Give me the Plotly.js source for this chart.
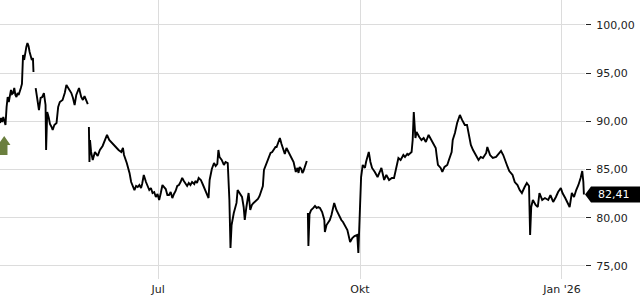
<!DOCTYPE html>
<html><head><meta charset="utf-8">
<script src="https://cdn.plot.ly/plotly-3.0.1.min.js"></script>
<style>html,body{margin:0;padding:0;background:#fff}#chart{width:640px;height:300px}</style>
</head><body><div id="chart"></div>
<script>
const dates = [
'2025-04-20 00:00','2025-04-20 12:00','2025-04-21 00:00','2025-04-21 12:00','2025-04-22 00:00','2025-04-22 12:00','2025-04-23 00:00','2025-04-23 12:00','2025-04-24 00:00','2025-04-24 12:00','2025-04-25 00:00','2025-04-25 12:00','2025-04-26 00:00','2025-04-26 12:00','2025-04-27 00:00','2025-04-27 12:00','2025-04-28 00:00','2025-04-28 12:00','2025-04-29 00:00','2025-04-29 12:00','2025-04-30 00:00','2025-04-30 06:00','2025-04-30 12:00','2025-05-01 00:00','2025-05-01 12:00','2025-05-02 00:00','2025-05-02 12:00','2025-05-03 00:00','2025-05-03 12:00','2025-05-04 00:00','2025-05-04 12:00','2025-05-05 00:00','2025-05-05 06:00','2025-05-05 18:00',
'2025-05-06 06:00','2025-05-07 00:00','2025-05-07 18:00','2025-05-08 12:00','2025-05-09 06:00','2025-05-10 00:00','2025-05-10 18:00','2025-05-11 00:00','2025-05-11 12:00','2025-05-12 06:00','2025-05-12 18:00','2025-05-13 12:00','2025-05-14 00:00','2025-05-14 18:00','2025-05-15 18:00','2025-05-16 12:00','2025-05-17 06:00','2025-05-18 12:00','2025-05-19 12:00','2025-05-20 06:00','2025-05-21 00:00','2025-05-21 18:00','2025-05-22 12:00','2025-05-23 06:00','2025-05-24 00:00','2025-05-24 18:00','2025-05-26 00:00','2025-05-27 00:00','2025-05-27 18:00','2025-05-28 12:00','2025-05-29 06:00','2025-05-30 00:00','2025-05-30 06:00',
'2025-05-30 12:00','2025-05-30 18:00','2025-05-31 00:00','2025-05-31 12:00','2025-06-01 06:00','2025-06-02 06:00','2025-06-03 12:00','2025-06-04 12:00','2025-06-05 18:00','2025-06-06 18:00','2025-06-07 18:00','2025-06-08 18:00','2025-06-09 12:00','2025-06-10 18:00','2025-06-11 18:00','2025-06-13 00:00','2025-06-14 06:00','2025-06-15 00:00','2025-06-15 12:00','2025-06-16 18:00','2025-06-18 00:00','2025-06-18 18:00','2025-06-19 12:00','2025-06-20 06:00','2025-06-21 00:00','2025-06-21 18:00','2025-06-22 12:00','2025-06-23 06:00','2025-06-23 18:00','2025-06-24 12:00','2025-06-25 12:00','2025-06-26 06:00','2025-06-27 00:00','2025-06-27 18:00','2025-06-28 12:00','2025-06-29 06:00','2025-06-30 00:00','2025-06-30 18:00',
'2025-07-01 12:00','2025-07-02 06:00','2025-07-03 00:00','2025-07-03 18:00','2025-07-04 12:00','2025-07-05 06:00','2025-07-06 00:00','2025-07-06 18:00','2025-07-07 12:00','2025-07-08 06:00','2025-07-09 00:00','2025-07-09 18:00','2025-07-10 12:00','2025-07-11 06:00','2025-07-12 00:00','2025-07-12 18:00','2025-07-13 12:00','2025-07-14 06:00','2025-07-15 00:00','2025-07-15 18:00','2025-07-16 12:00','2025-07-17 12:00','2025-07-18 00:00','2025-07-18 18:00','2025-07-19 12:00','2025-07-20 12:00','2025-07-21 12:00','2025-07-22 12:00','2025-07-23 12:00','2025-07-24 00:00','2025-07-24 12:00','2025-07-25 12:00','2025-07-26 12:00','2025-07-27 06:00','2025-07-28 00:00','2025-07-28 12:00','2025-07-29 00:00','2025-07-30 00:00','2025-07-31 00:00','2025-07-31 18:00',
'2025-08-01 18:00','2025-08-02 12:00','2025-08-03 00:00','2025-08-03 12:00','2025-08-04 12:00','2025-08-05 06:00','2025-08-05 18:00','2025-08-06 06:00','2025-08-07 06:00','2025-08-08 06:00','2025-08-09 00:00','2025-08-09 12:00','2025-08-10 06:00','2025-08-10 18:00','2025-08-11 06:00','2025-08-12 00:00','2025-08-12 18:00','2025-08-13 12:00','2025-08-14 12:00','2025-08-15 12:00','2025-08-16 06:00','2025-08-17 06:00','2025-08-17 18:00','2025-08-18 06:00','2025-08-19 00:00','2025-08-19 18:00','2025-08-20 12:00','2025-08-21 06:00','2025-08-22 00:00','2025-08-22 12:00','2025-08-23 12:00','2025-08-24 00:00','2025-08-24 18:00','2025-08-25 12:00','2025-08-26 06:00','2025-08-27 00:00','2025-08-27 18:00','2025-08-28 12:00','2025-08-29 12:00','2025-08-30 12:00','2025-08-31 18:00',
'2025-09-01 18:00','2025-09-02 12:00','2025-09-03 00:00','2025-09-03 12:00','2025-09-04 06:00','2025-09-04 18:00','2025-09-05 06:00','2025-09-06 00:00','2025-09-06 18:00','2025-09-07 00:00',
'2025-09-07 06:00','2025-09-07 12:00','2025-09-08 00:00','2025-09-08 18:00','2025-09-09 18:00','2025-09-10 12:00','2025-09-11 06:00','2025-09-12 00:00','2025-09-12 18:00','2025-09-13 18:00','2025-09-14 18:00','2025-09-15 00:00','2025-09-15 18:00','2025-09-16 12:00','2025-09-17 06:00','2025-09-18 00:00','2025-09-18 18:00','2025-09-19 06:00','2025-09-20 06:00','2025-09-21 12:00','2025-09-22 12:00','2025-09-23 06:00','2025-09-24 00:00','2025-09-25 06:00','2025-09-26 12:00','2025-09-27 12:00','2025-09-28 12:00','2025-09-29 18:00','2025-09-30 06:00','2025-09-30 18:00',
'2025-10-01 00:00','2025-10-01 12:00','2025-10-02 06:00','2025-10-03 06:00','2025-10-03 18:00','2025-10-04 06:00','2025-10-05 00:00','2025-10-05 18:00','2025-10-06 12:00','2025-10-07 18:00','2025-10-09 00:00','2025-10-10 00:00','2025-10-10 18:00','2025-10-12 00:00','2025-10-13 00:00','2025-10-14 06:00','2025-10-15 12:00','2025-10-16 12:00','2025-10-17 18:00','2025-10-18 12:00','2025-10-19 12:00','2025-10-20 00:00','2025-10-20 18:00','2025-10-21 12:00','2025-10-22 12:00','2025-10-23 00:00','2025-10-23 18:00','2025-10-24 12:00','2025-10-25 00:00','2025-10-25 12:00','2025-10-26 06:00','2025-10-26 18:00','2025-10-28 00:00','2025-10-29 00:00','2025-10-30 00:00','2025-10-31 00:00',
'2025-11-01 06:00','2025-11-02 12:00','2025-11-03 12:00','2025-11-04 12:00','2025-11-05 00:00','2025-11-05 12:00','2025-11-06 18:00','2025-11-07 12:00','2025-11-08 12:00','2025-11-09 18:00','2025-11-10 12:00','2025-11-11 18:00','2025-11-12 06:00','2025-11-13 06:00','2025-11-14 06:00','2025-11-15 12:00','2025-11-16 12:00','2025-11-17 18:00','2025-11-18 18:00','2025-11-19 18:00','2025-11-20 12:00','2025-11-21 12:00','2025-11-22 18:00','2025-11-24 00:00','2025-11-25 00:00','2025-11-26 00:00','2025-11-27 12:00','2025-11-28 00:00','2025-11-29 06:00','2025-11-30 12:00',
'2025-12-02 00:00','2025-12-03 06:00','2025-12-04 06:00','2025-12-05 06:00','2025-12-06 06:00','2025-12-07 06:00','2025-12-08 00:00','2025-12-09 12:00','2025-12-10 12:00','2025-12-11 18:00','2025-12-12 18:00','2025-12-13 18:00','2025-12-15 00:00','2025-12-16 00:00','2025-12-17 00:00','2025-12-17 12:00','2025-12-18 00:00','2025-12-18 18:00','2025-12-20 00:00','2025-12-21 00:00','2025-12-21 18:00','2025-12-23 00:00','2025-12-24 06:00','2025-12-25 18:00','2025-12-26 18:00','2025-12-28 00:00','2025-12-29 06:00','2025-12-30 06:00','2025-12-31 12:00',
'2026-01-01 06:00','2026-01-02 12:00','2026-01-03 12:00','2026-01-04 12:00','2026-01-05 12:00','2026-01-06 12:00','2026-01-07 12:00','2026-01-08 12:00','2026-01-09 12:00','2026-01-10 06:00','2026-01-10 18:00','2026-01-11 00:00'
];
const prices = [
89.83,90.35,89.94,90.46,90.04,89.63,91.49,92.53,92.01,92.63,93.26,92.84,92.94,93.46,92.74,92.53,92.94,92.74,93.26,93.46,93.88,94.92,96.89,96.37,97.20,97.72,98.13,97.82,97.20,96.89,96.37,96.58,95.12,null,
93.46,92.53,91.18,92.43,92.53,92.94,91.70,87.03,90.97,90.35,89.73,89.42,89.11,89.63,89.83,91.49,92.01,92.22,92.94,93.78,93.46,93.26,92.94,92.43,91.70,92.74,93.46,92.53,92.22,92.63,92.22,91.80,null,
89.42,85.79,88.07,86.83,86.00,86.83,86.41,87.03,87.45,88.07,88.59,88.07,87.86,87.55,87.34,87.03,86.83,87.24,86.51,85.68,84.65,83.71,83.30,82.88,83.30,83.19,83.40,83.09,83.50,84.44,83.71,83.30,82.88,83.09,82.57,82.67,82.16,82.47,
81.85,82.57,83.40,83.19,82.98,82.36,82.36,82.67,82.05,82.47,82.78,83.30,83.40,83.71,84.13,83.82,83.61,83.30,83.61,83.40,83.71,83.50,83.82,83.61,84.13,83.92,83.40,82.88,82.26,82.05,83.92,85.06,85.68,85.37,85.58,87.03,86.31,86.00,85.48,85.79,
85.68,81.85,76.87,79.25,80.50,81.12,81.54,82.88,82.57,82.16,81.12,79.77,81.12,81.85,82.57,80.81,81.33,81.54,81.74,81.95,82.26,82.88,83.30,84.96,85.37,85.79,86.20,86.72,86.82,87.03,87.34,87.34,87.76,88.28,87.66,87.03,86.62,87.24,86.82,86.31,85.79,
84.75,85.17,84.65,85.27,85.06,84.65,84.85,85.37,85.89,null,
80.50,77.07,80.39,80.81,81.02,81.23,81.02,81.12,81.02,80.60,79.77,78.53,79.25,79.56,79.77,80.29,81.02,81.54,80.81,80.19,79.77,79.56,79.25,78.73,77.49,77.90,78.11,78.22,76.35,80.29,
82.16,84.23,85.48,85.17,85.79,86.20,86.82,85.79,85.17,84.75,84.23,84.75,85.17,83.92,84.44,83.92,84.13,84.13,85.27,86.20,86.00,86.20,86.51,86.31,86.62,86.51,86.72,86.82,88.07,90.97,88.28,88.90,88.38,88.07,88.28,87.86,
88.59,88.07,87.76,87.24,86.31,85.48,85.17,84.75,85.27,85.48,86.00,86.82,88.07,88.80,89.83,90.66,90.15,89.63,89.63,88.38,87.55,87.03,86.51,86.00,86.31,86.20,86.72,87.34,86.51,86.20,
86.31,86.72,86.93,86.51,85.79,85.27,84.85,84.44,83.71,83.40,82.88,82.57,83.19,83.61,83.30,78.22,81.12,81.85,81.33,81.12,82.57,81.85,82.05,81.85,82.36,81.64,82.16,82.67,83.09,
82.57,82.05,81.64,81.12,82.57,82.16,82.88,83.40,84.13,84.85,83.71,82.41
];
const xTickVals = ['2025-07-01','2025-10-01','2026-01-01'];
const xTickText = ['Jul','Okt',"Jan '26"];
const yTickVals = [75,80,85,90,95,100];

const lastPrice = prices[prices.length-1];
const lastLabel = lastPrice.toFixed(2).replace('.', ',');

const trace = {
  x: dates, y: prices, type: 'scatter', mode: 'lines',
  line: {color: '#000', width: 1.9},
  connectgaps: false, hoverinfo: 'skip'
};

const half = 0.83;
const layout = {
  width: 640, height: 300,
  margin: {l: 0, r: 55, t: 0, b: 21},
  paper_bgcolor: '#fff', plot_bgcolor: '#fff',
  separators: ',.',
  showlegend: false,
  font: {family: 'DejaVu Sans, sans-serif', size: 11, color: '#222'},
  xaxis: {
    type: 'date', range: ['2025-04-20', '2026-01-11 12:00'],
    tickmode: 'array', tickvals: xTickVals, ticktext: xTickText,
    showgrid: true, gridcolor: '#dcdcdc', gridwidth: 1,
    zeroline: false, showline: false, ticks: '', ticklabelstandoff: 2,
    tickfont: {size: 11, color: '#222'}, fixedrange: true
  },
  yaxis: {
    side: 'right', range: [73.65, 102.59],
    tickmode: 'array', tickvals: yTickVals, tickformat: '.2f',
    ticks: 'outside', ticklen: 5, tickwidth: 1, tickcolor: '#222',
    ticklabelstandoff: 3,
    showgrid: true, gridcolor: '#dcdcdc', gridwidth: 1,
    zeroline: false, showline: false,
    tickfont: {size: 11, color: '#222'}, fixedrange: true
  },
  shapes: [
    {type: 'path', xref: 'paper', yref: 'y', layer: 'above',
     path: `M 1,${lastPrice} L 1.0103,${lastPrice+half} L 1.1,${lastPrice+half} L 1.1,${lastPrice-half} L 1.0103,${lastPrice-half} Z`,
     fillcolor: '#000', line: {width: 0}},
    {type: 'path', xref: 'paper', yref: 'paper', layer: 'above',
     path: 'M 0.0072,0.5125 L 0.0179,0.4803 L 0.0128,0.4803 L 0.0128,0.4444 L 0,0.4444 L 0,0.4803 L -0.0034,0.4803 Z',
     fillcolor: '#6b7f3e', line: {width: 0}}
  ],
  annotations: [
    {xref: 'paper', yref: 'y', x: 1.0188, y: lastPrice, xanchor: 'left', yanchor: 'middle',
     text: lastLabel, showarrow: false, font: {color: '#fff', size: 11}}
  ]
};

Plotly.newPlot('chart', [trace], layout, {staticPlot: true, displayModeBar: false});
</script>
</body></html>
